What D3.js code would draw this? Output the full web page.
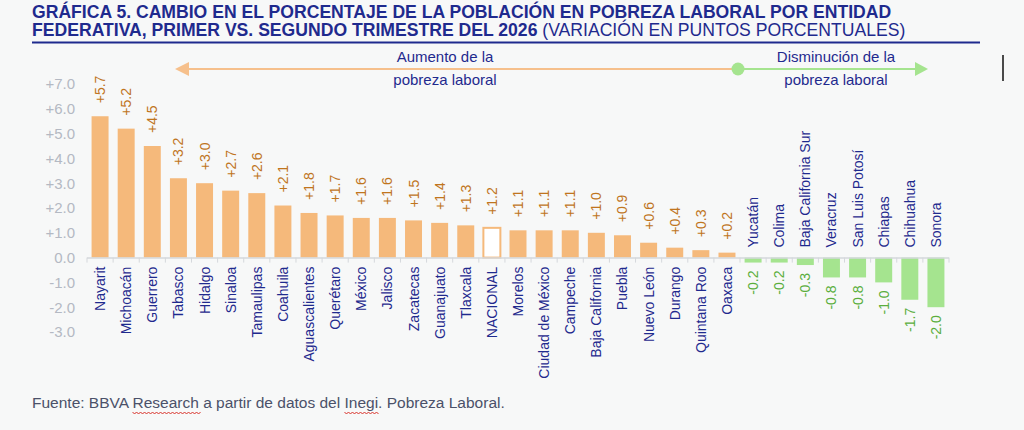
<!doctype html>
<html lang="es">
<head>
<meta charset="UTF-8">
<title>Grafica 5</title>
<script src="https://d3js.org/d3.v7.min.js"></script>
<style>
 body{margin:0;background:#f7f8f8;}
 svg{display:block;font-family:"Liberation Sans",Arial,sans-serif;}
</style>
</head>
<body>
<div id="chart"></div>
<script>
// data
var estados = ["Nayarit","Michoacán","Guerrero","Tabasco","Hidalgo","Sinaloa","Tamaulipas","Coahuila",
  "Aguascalientes","Querétaro","México","Jalisco","Zacatecas","Guanajuato","Tlaxcala","NACIONAL",
  "Morelos","Ciudad de México","Campeche","Baja California","Puebla","Nuevo León","Durango",
  "Quintana Roo","Oaxaca","Yucatán","Colima","Baja California Sur","Veracruz","San Luis Potosí",
  "Chiapas","Chihuahua","Sonora"];
var cambio = [5.7,5.2,4.5,3.2,3.0,2.7,2.6,2.1,1.8,1.7,1.6,1.6,1.5,1.4,1.3,1.2,1.1,1.1,1.1,1.0,0.9,0.6,0.4,0.3,0.2,
  -0.2,-0.2,-0.3,-0.8,-0.8,-1.0,-1.7,-2.0];
var yTicks = [-3,-2,-1,0,1,2,3,4,5,6,7];

var titulo1 = "GRÁFICA 5. CAMBIO EN EL PORCENTAJE DE LA POBLACIÓN EN POBREZA LABORAL POR ENTIDAD";
var titulo2a = "FEDERATIVA, PRIMER VS. SEGUNDO TRIMESTRE DEL 2026";
var titulo2b = " (VARIACIÓN EN PUNTOS PORCENTUALES)";
var fuente = "Fuente: BBVA Research a partir de datos del Inegi. Pobreza Laboral.";

var navy = "#1f2a8e";
var naranja = "#f5b97b";
var verde = "#a5e48f";

var data = estados.map(function(d,i){ return {estado:d, valor:cambio[i]}; });

var svg = d3.select("#chart").append("svg")
  .attr("width",1024)
  .attr("height",430);

// title
svg.append("text")
  .attr("x",32).attr("y",18)
  .attr("font-size",17.6).attr("font-weight","bold").attr("fill",navy)
  .text(titulo1);
var t2 = svg.append("text")
  .attr("x",32).attr("y",36)
  .attr("font-size",17.6).attr("fill",navy);
t2.append("tspan").attr("font-weight","bold").text(titulo2a);
t2.append("tspan").text(titulo2b);
svg.append("line")
  .attr("x1",32).attr("x2",980).attr("y1",42.5).attr("y2",42.5)
  .attr("stroke",navy).attr("stroke-width",2);

// scales
var x = d3.scaleBand()
  .domain(estados)
  .range([87,949])
  .paddingInner(0.35)
  .paddingOuter(0.175);
var y = d3.scaleLinear()
  .domain([-3,7])
  .range([332,84]);

// y axis labels
var yAxis = d3.axisLeft(y)
  .tickValues(yTicks)
  .tickSize(0)
  .tickPadding(0)
  .tickFormat(function(d){ return d>0 ? "+"+d.toFixed(1) : d.toFixed(1); });
var gy = svg.append("g")
  .attr("transform","translate(75,0)")
  .call(yAxis);
gy.select(".domain").remove();
gy.selectAll("text")
  .attr("font-size",15)
  .attr("font-family","Liberation Sans, Arial, sans-serif")
  .attr("fill","#b4b9c3");

// bars
svg.selectAll(".bar")
  .data(data)
  .enter()
  .append("rect")
  .attr("class","bar")
  .attr("x",function(d){ return x(d.estado); })
  .attr("width",x.bandwidth())
  .attr("y",function(d){ return d.valor>0 ? y(d.valor) : y(0); })
  .attr("height",function(d){ return Math.abs(y(d.valor)-y(0)); })
  .attr("fill",function(d){
    if(d.estado=="NACIONAL") return "#ffffff";
    return d.valor>0 ? naranja : verde;
  })
  .attr("stroke",function(d){ return d.estado=="NACIONAL" ? naranja : "none"; })
  .attr("stroke-width",2);

// x axis line with ticks between categories
var step = x.step();
var gx = svg.append("g");
gx.append("line")
  .attr("x1",x.range()[0]).attr("x2",x.range()[1])
  .attr("y1",y(0)+0.5).attr("y2",y(0)+0.5)
  .attr("stroke","#d5d8dc").attr("stroke-width",1.5);
gx.selectAll(".tk")
  .data(d3.range(estados.length+1))
  .enter()
  .append("line")
  .attr("x1",function(i){ return x.range()[0]+i*step; })
  .attr("x2",function(i){ return x.range()[0]+i*step; })
  .attr("y1",y(0)).attr("y2",y(0)+5)
  .attr("stroke","#d5d8dc").attr("stroke-width",1);

// category labels
svg.selectAll(".cat")
  .data(data)
  .enter()
  .append("text")
  .attr("class","cat")
  .attr("font-size",14)
  .attr("fill",navy)
  .attr("text-anchor",function(d){ return d.valor>0 ? "end" : "start"; })
  .attr("transform",function(d){
    var cx = x(d.estado)+x.bandwidth()/2+5;
    var cy = d.valor>0 ? y(0)+9 : y(0)-10;
    return "translate("+cx+","+cy+") rotate(-90)";
  })
  .text(function(d){ return d.estado; });

// value labels
svg.selectAll(".val")
  .data(data)
  .enter()
  .append("text")
  .attr("class","val")
  .attr("font-size",14)
  .attr("fill",function(d){ return d.valor>0 ? "#c0751e" : "#5aae3c"; })
  .attr("text-anchor",function(d){ return d.valor>0 ? "start" : "end"; })
  .attr("transform",function(d){
    var cx = x(d.estado)+x.bandwidth()/2+5;
    var cy = d.valor>0 ? y(d.valor)-13 : y(d.valor)+8;
    return "translate("+cx+","+cy+") rotate(-90)";
  })
  .text(function(d){ return (d.valor>0 ? "+" : "")+d.valor.toFixed(1); });

// arrows on top
var ay = 69;
svg.append("line")
  .attr("x1",180).attr("x2",738).attr("y1",ay).attr("y2",ay)
  .attr("stroke","#f6c08c").attr("stroke-width",2);
svg.append("path")
  .attr("d","M175,"+ay+" L189,"+(ay-7)+" L189,"+(ay+7)+" Z")
  .attr("fill","#f6c08c");
svg.append("line")
  .attr("x1",738).attr("x2",918).attr("y1",ay).attr("y2",ay)
  .attr("stroke","#a5e48f").attr("stroke-width",2);
svg.append("path")
  .attr("d","M928,"+ay+" L915,"+(ay-7)+" L915,"+(ay+7)+" Z")
  .attr("fill","#a5e48f");
svg.append("circle")
  .attr("cx",738).attr("cy",ay).attr("r",6.5)
  .attr("fill","#a5e48f");

var notas = [
  {x:445, t1:"Aumento de la", t2:"pobreza laboral"},
  {x:836, t1:"Disminución de la", t2:"pobreza laboral"}
];
notas.forEach(function(n){
  svg.append("text").attr("x",n.x).attr("y",62).attr("text-anchor","middle")
    .attr("font-size",15).attr("fill",navy).text(n.t1);
  svg.append("text").attr("x",n.x).attr("y",85).attr("text-anchor","middle")
    .attr("font-size",15).attr("fill",navy).text(n.t2);
});

// cursor mark
svg.append("line")
  .attr("x1",1003).attr("x2",1003).attr("y1",55).attr("y2",81)
  .attr("stroke","#111").attr("stroke-width",1.5);

// source
var src = svg.append("text")
  .attr("x",32).attr("y",408)
  .attr("font-size",15.5).attr("fill","#4b5169")
  .text(fuente);

// spell-check squiggles under two words of the source
var node = src.node();
["Research","Inegi"].forEach(function(w){
  var i = fuente.indexOf(w);
  var x0 = 32 + node.getSubStringLength(0,i);
  var x1 = x0 + node.getSubStringLength(i,w.length);
  var p = "M"+x0+",412";
  for(var xx=x0, k=0; xx<x1; xx+=2, k++){
    p += " L"+(xx+2)+","+(k%2==0 ? 414 : 412);
  }
  svg.append("path").attr("d",p).attr("fill","none")
    .attr("stroke","#d9322b").attr("stroke-width",1);
});
</script>
</body>
</html>
